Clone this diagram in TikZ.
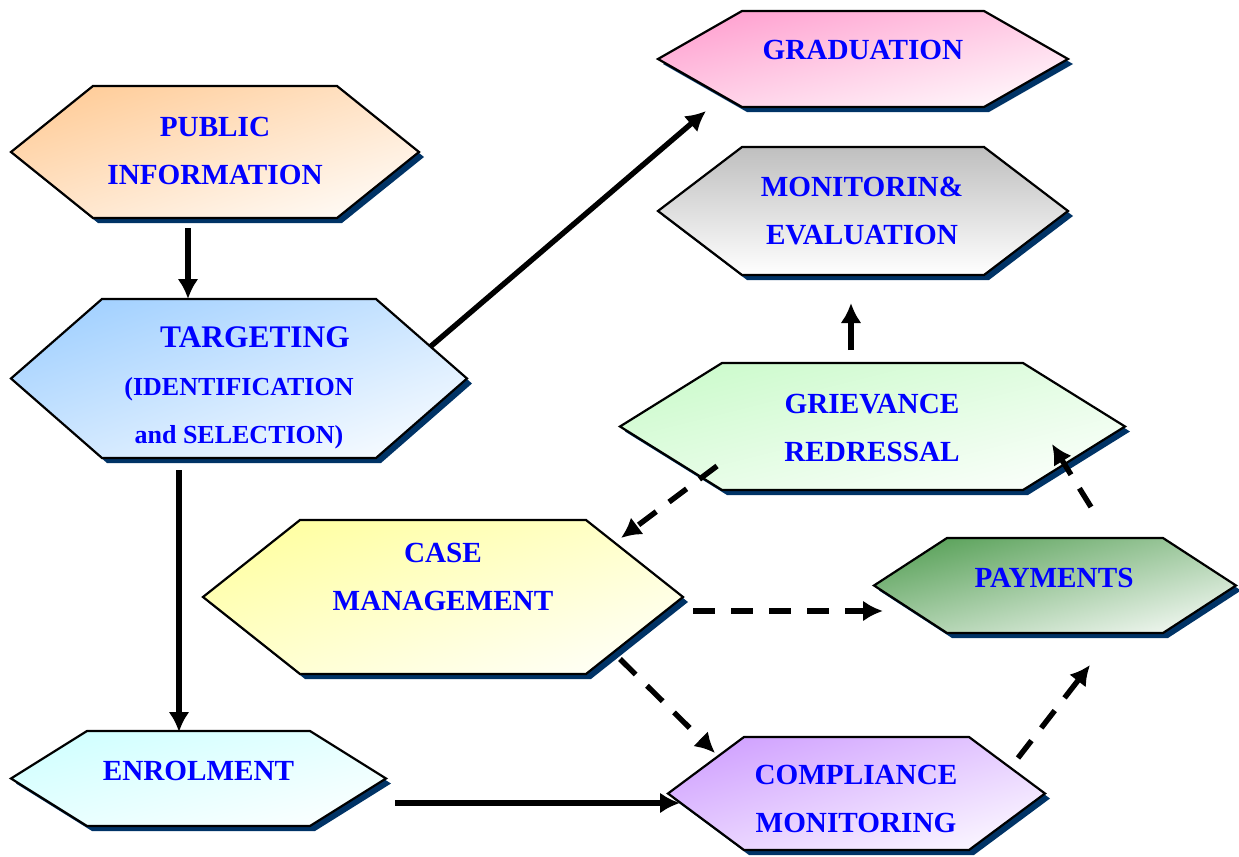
\documentclass[tikz,border=0pt]{standalone}
\usepackage{fontspec}
\setmainfont{Liberation Serif}
\usepackage{xcolor}
\usetikzlibrary{arrows.meta,calc,shadings}
\tikzset{>=latex}

\definecolor{shadowblue}{HTML}{003366}
\definecolor{textblue}{HTML}{0000FF}
\definecolor{pubpeach}{HTML}{FFC890}
\definecolor{tgtblue}{HTML}{99CCFF}
\definecolor{gradpink}{HTML}{FF99CC}
\definecolor{mongrey}{HTML}{BFBFBF}
\definecolor{grvgreen}{HTML}{C8FAC8}
\definecolor{caseyellow}{HTML}{FFFF99}
\definecolor{paygreen}{HTML}{4C9A4C}
\definecolor{enrcyan}{HTML}{CCFFFF}
\definecolor{complilac}{HTML}{CC99FF}

\tikzset{
	hexshadow/.style={fill=shadowblue},
	hexline/.style={draw=black, line width=1.1pt},
	hexfill/.style={upper left=#1, upper right=#1!50!white,
		lower left=#1!50!white, lower right=white},
	hexnode/.style={inner sep=0pt, outer sep=0pt},
	hextext/.style={text=textblue, align=center,
		font=\bfseries\fontsize{14.6}{24}\selectfont},
	flow/.style={line width=2.7pt, -{Latex[length=10pt,width=10.5pt]}},
	dflow/.style={flow, dash pattern=on 11pt off 8pt},
}

% name, centre, half width, half height, inset, fill
\newcommand\hexbox[6]{%
	\fill[hexshadow, shift={(#2)}] (-#3+5,5) -- (-#3+#5+5,-#4+5) -- (#3-#5+5,-#4+5)
		-- (#3+5,5) -- (#3-#5+5,#4+5) -- (-#3+#5+5,#4+5) -- cycle;
	\shadedraw[hexline, #6, shift={(#2)}] (-#3,0) -- (-#3+#5,-#4) -- (#3-#5,-#4)
		-- (#3,0) -- (#3-#5,#4) -- (-#3+#5,#4) -- cycle;
	\node[hexnode, minimum width=#3pt, minimum height=#4pt] (#1) at (#2) {};
}

\begin{document}
\begin{tikzpicture}[x=0.5pt, y=-0.5pt]
            \useasboundingbox (0,0) rectangle (1239,857);
            \hexbox{pub}{215,152}{204}{66}{82}{hexfill=pubpeach}
            \hexbox{tgt}{239,378.5}{228}{79.5}{91}{hexfill=tgtblue}
            \hexbox{grad}{863,59}{205}{48}{84}{hexfill=gradpink}
            \hexbox{mon}{863,211}{205}{64}{84}{top color=mongrey, bottom color=white}
            \hexbox{grv}{872.5,426.5}{252.5}{63.5}{102}{hexfill=grvgreen}
            \hexbox{case}{443,597}{240}{77}{97}{hexfill=caseyellow}
            \hexbox{pay}{1055,585.5}{181}{47.5}{73}{hexfill=paygreen}
            \hexbox{enr}{198.5,778.5}{187.5}{47.5}{76}{hexfill=enrcyan}
            \hexbox{comp}{856.5,793.5}{188.5}{56.5}{76}{hexfill=complilac}

            \node[hextext] (pubtext) at (215,150.5) {PUBLIC\\INFORMATION};
            \node[hextext] (tgttext) at (239,388) {{\fontsize{15.7}{24}\selectfont\hspace*{16pt}TARGETING}\\
                {\fontsize{13}{24}\selectfont(IDENTIFICATION}\\{\fontsize{13}{24}\selectfont and SELECTION)}};
            \node[hextext] (gradtext) at (863,50) {GRADUATION};
            \node[hextext] (montext) at (862,211.5) {MONITORIN\&\\EVALUATION};
            \node[hextext] (grvtext) at (872,427.5) {GRIEVANCE\\REDRESSAL};
            \node[hextext] (casetext) at (443,576.5) {CASE\\MANAGEMENT};
            \node[hextext] (paytext) at (1054,578) {PAYMENTS};
            \node[hextext] (enrtext) at (198.5,771) {ENROLMENT};
            \node[hextext] (comptext) at (856,799) {COMPLIANCE\\MONITORING};

            \draw[flow] ($(pub.south)+(-27,10)$) -- ($(tgt.north)+(-51,0)$);
            \draw[flow] ($(tgt.east)+(-37,-31.5)$) -- ($(grad.south west)+(48,4)$);
            \draw[flow] ($(tgt.south)+(-60,12)$) -- ($(enr.north)+(-19.5,1)$);
            \draw[flow] ($(enr.east)+(9,24.5)$) -- ($(comp.west)+(12,9.5)$);
            \draw[flow] ($(grv.north)+(-21.5,-13)$) -- ($(mon.south)+(-12,28)$);
            \draw[dflow] ($(grv.south west)+(97,-24)$) -- ($(case.north east)+(-62,18)$);
            \draw[dflow] ($(case.east)+(10,14)$) -- ($(pay.west)+(9,25.5)$);
            \draw[dflow] ($(case.south east)+(-63,-15)$) -- ($(comp.north west)+(47,16)$);
            \draw[dflow] ($(comp.north east)+(-27,21)$) -- ($(pay.south)+(35,32)$);
            \draw[dflow] ($(pay.north)+(36,-31)$) -- ($(grv.east)+(-73,17.5)$);
        \end{tikzpicture}
\end{document}
